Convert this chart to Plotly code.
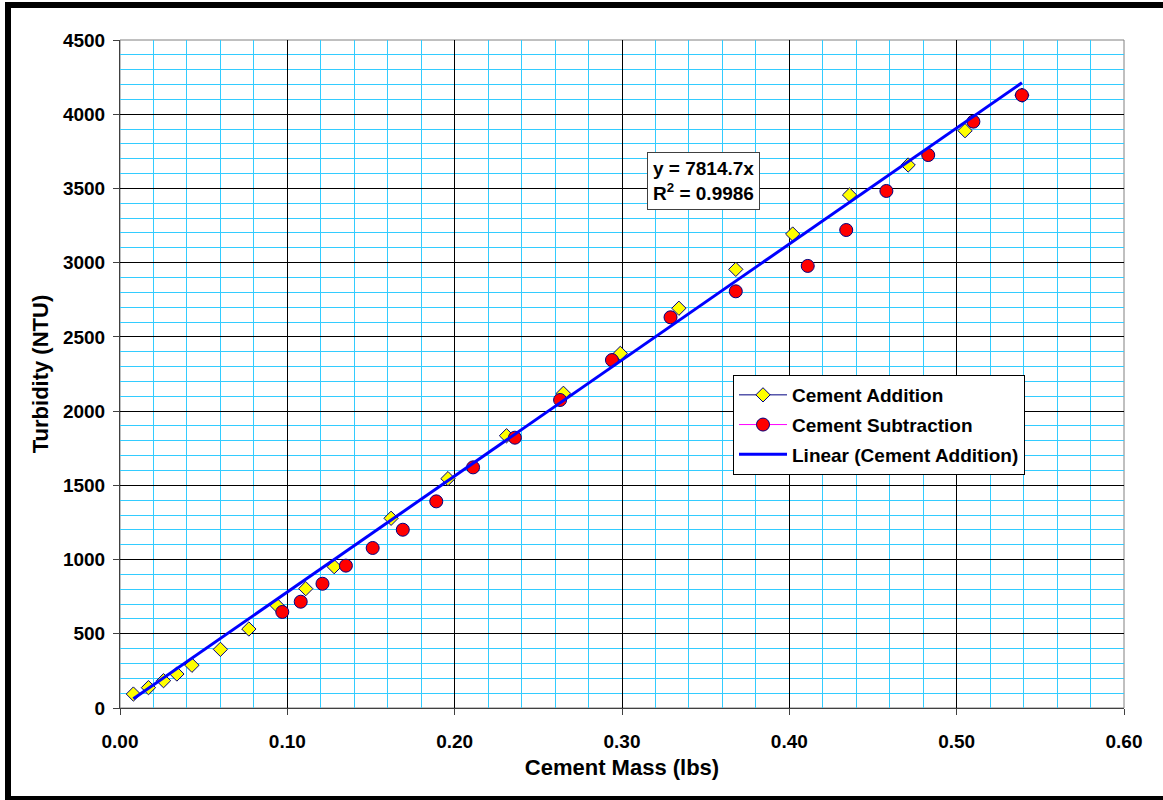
import plotly.graph_objects as go

# Cement Addition measurements (mass in lbs, turbidity in NTU)
add_mass = [0.008, 0.017, 0.026, 0.034, 0.043, 0.060, 0.077, 0.094, 0.111, 0.128,
            0.162, 0.196, 0.231, 0.265, 0.299, 0.334, 0.368, 0.402, 0.436, 0.471,
            0.505, 0.539]
add_ntu = [94, 137, 184, 229, 288, 395, 532, 689, 804, 952,
           1278, 1545, 1834, 2120, 2389, 2693, 2955, 3193, 3456, 3658,
           3889, 4128]

# Cement Subtraction measurements
sub_mass = [0.097, 0.108, 0.121, 0.135, 0.151, 0.169, 0.189, 0.211, 0.236, 0.263,
            0.294, 0.329, 0.368, 0.411, 0.434, 0.458, 0.483, 0.510, 0.539]
sub_ntu = [647, 716, 837, 959, 1078, 1201, 1392, 1621, 1821, 2075,
           2344, 2632, 2807, 2978, 3220, 3483, 3725, 3950, 4128]

# Linear trendline through the origin for the addition series
slope = 7814.7
r_squared = 0.9986
trend_x = [min(add_mass), max(add_mass)]
trend_y = [slope * v for v in trend_x]

x_ticks = [0.0, 0.1, 0.2, 0.3, 0.4, 0.5, 0.6]
y_ticks = [0, 500, 1000, 1500, 2000, 2500, 3000, 3500, 4000, 4500]

FONT = "Arial, Liberation Sans, sans-serif"
W, H = 1163, 800
L, R, T, B = 120, 39, 40, 92
PW, PH = W - L - R, H - T - B


def px_x(p):
    return (p - L) / PW


def px_y(p):
    return (H - B - p) / PH


fig = go.Figure()

# legend-only entries (series are drawn as markers only)
fig.add_trace(go.Scatter(
    x=[None], y=[None], mode="lines+markers", name="Cement Addition",
    legendgroup="add",
    line=dict(color="#000080", width=1),
    marker=dict(symbol="diamond", size=11, color="#FFFF00",
                line=dict(color="#000080", width=1)),
))
fig.add_trace(go.Scatter(
    x=[None], y=[None], mode="lines+markers", name="Cement Subtraction",
    legendgroup="sub",
    line=dict(color="#FF00FF", width=1),
    marker=dict(symbol="circle", size=13, color="#FF0000",
                line=dict(color="#000080", width=1)),
))

fig.add_trace(go.Scatter(
    x=add_mass, y=add_ntu, mode="markers", showlegend=False, legendgroup="add",
    marker=dict(symbol="diamond", size=11, color="#FFFF00",
                line=dict(color="#000080", width=1)),
))
fig.add_trace(go.Scatter(
    x=sub_mass, y=sub_ntu, mode="markers", showlegend=False, legendgroup="sub",
    marker=dict(symbol="circle", size=13, color="#FF0000",
                line=dict(color="#000080", width=1)),
))
fig.add_trace(go.Scatter(
    x=trend_x, y=trend_y, mode="lines", name="Linear (Cement Addition)",
    legendgroup="trend",
    line=dict(color="#0000FF", width=3),
))

axis_common = dict(
    showline=True, linecolor="#404040", linewidth=1,
    ticks="outside", ticklen=6, tickcolor="#404040",
    showgrid=True, gridcolor="#000000", gridwidth=1,
    zeroline=False,
    tickfont=dict(family=FONT, size=19, color="black", weight="bold"),
)

fig.update_xaxes(
    range=[0, 0.6], tickvals=x_ticks, tickformat=".2f",
    ticklabelstandoff=10,
    minor=dict(dtick=0.02, showgrid=True, gridcolor="#33CCFF", gridwidth=1, ticks=""),
    title=dict(text="Cement Mass (lbs)", standoff=8,
               font=dict(family=FONT, size=22, color="black", weight="bold")),
    **axis_common,
)
fig.update_yaxes(
    range=[0, 4500], tickvals=y_ticks,
    ticklabelstandoff=4,
    minor=dict(dtick=100, showgrid=True, gridcolor="#33CCFF", gridwidth=1, ticks=""),
    title=dict(text="Turbidity (NTU)", standoff=8,
               font=dict(family=FONT, size=22, color="black", weight="bold")),
    **axis_common,
)

fig.update_layout(
    width=W, height=H,
    margin=dict(l=L, r=R, t=T, b=B),
    paper_bgcolor="white", plot_bgcolor="white",
    font=dict(family=FONT, color="black"),
    legend=dict(
        x=px_x(733), y=px_y(375), xanchor="left", yanchor="top",
        bgcolor="white", bordercolor="#000000", borderwidth=1,
        font=dict(family=FONT, size=19, color="black", weight="bold"),
        tracegroupgap=2, itemwidth=48,
    ),
    shapes=[
        # plot-area frame
        dict(type="rect", xref="paper", yref="paper", x0=0, x1=1, y0=0, y1=1,
             line=dict(color="#808080", width=1), layer="below"),
        # chart-area border
        dict(type="rect", xref="paper", yref="paper",
             x0=px_x(8), x1=px_x(1170), y0=px_y(799), y1=px_y(5),
             line=dict(color="black", width=6)),
    ],
    annotations=[
        dict(xref="paper", yref="paper", x=px_x(647), y=px_y(152),
             xanchor="left", yanchor="top", align="left", showarrow=False,
             text=f"y = {slope}x<br>R<sup>2</sup> = {r_squared}",
             font=dict(family=FONT, size=19, color="black", weight="bold"),
             bgcolor="white", bordercolor="#404040", borderwidth=1, borderpad=5),
    ],
)

fig.write_html("out.html")
